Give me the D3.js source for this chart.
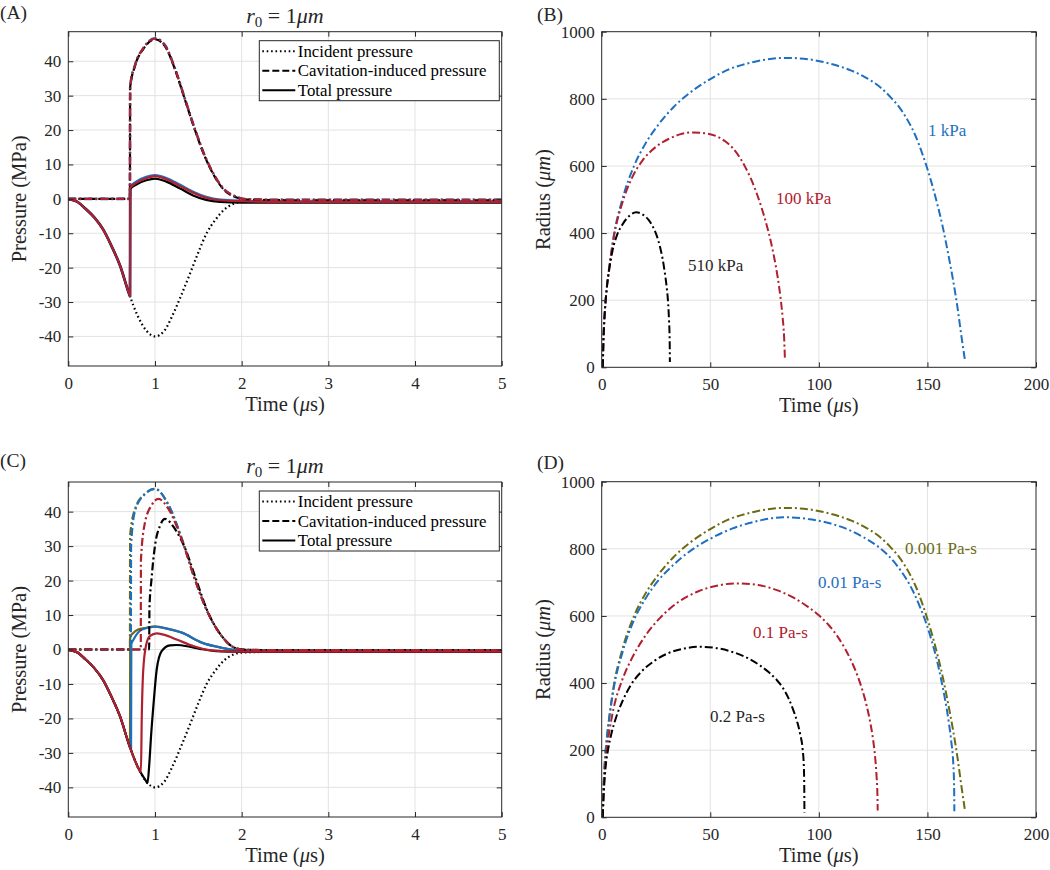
<!DOCTYPE html>
<html><head><meta charset="utf-8">
<script src="https://cdn.jsdelivr.net/npm/d3@7"></script>
<style>
body{margin:0;background:#fff}
svg{display:block}
text{font-family:"Liberation Serif","Times New Roman",serif;fill:#262626}
</style>
</head><body>
<svg id="c" width="1050" height="870"></svg>
<script>
// ---------- tick labels ----------
const pressureTicks = [-40,-30,-20,-10,0,10,20,30,40];
const timeTicksShort = [0,1,2,3,4,5];
const radiusTicks = [0,200,400,600,800,1000];
const timeTicksLong = [0,50,100,150,200];

// ---------- (A)  pressure (MPa) vs time (µs), three far-field pressures ----------
const incidentPressure = [[0,-0.1],[0.1,-0.8],[0.2,-2.9],[0.3,-5.4],[0.4,-8.8],[0.5,-13.8],[0.6,-19.6],[0.7,-27.5],[0.8,-34],[0.9,-38.3],[1.0,-40],[1.1,-38.6],[1.2,-34],[1.3,-28.2],[1.4,-22],[1.5,-15.6],[1.6,-9.8],[1.7,-6],[1.8,-3.1],[1.9,-1.5],[2.0,-0.9],[2.3,-0.7],[3,-0.6],[4,-0.6],[5,-0.6]];

const caviA_1kPa   = [[0,0],[0.711,0],[0.713,32.5],[0.77,38.9],[0.866,43.8],[1.0,46.7],[1.115,44.7],[1.23,37.9],[1.345,29.1],[1.46,20.3],[1.575,12.5],[1.69,6.6],[1.8,2.7],[1.92,0.8],[2.05,-0.1],[2.5,-0.3],[5,-0.3]];
const caviA_100kPa = [[0,0],[0.711,0],[0.713,32.5],[0.77,38.9],[0.866,43.8],[1.0,46.6],[1.115,44.6],[1.23,37.9],[1.345,29.1],[1.46,20.3],[1.575,12.5],[1.69,6.6],[1.8,2.7],[1.92,0.8],[2.05,-0.1],[2.5,-0.3],[5,-0.3]];
const caviA_510kPa = [[0,0],[0.711,0],[0.713,32.3],[0.77,38.7],[0.866,43.6],[1.0,46.4],[1.115,44.4],[1.23,37.7],[1.345,28.9],[1.46,20.1],[1.575,12.3],[1.69,6.4],[1.8,2.5],[1.92,0.6],[2.05,-0.2],[2.5,-0.4],[5,-0.4]];

const totalA_1kPa   = [[0,-0.1],[0.1,-0.8],[0.2,-2.9],[0.3,-5.4],[0.4,-8.8],[0.5,-13.8],[0.6,-19.6],[0.7,-27.5],[0.712,-28.3],[0.714,3.4],[0.79,5.0],[0.9,6.3],[1.0,6.8],[1.13,6.0],[1.29,4.0],[1.44,2.0],[1.59,0.5],[1.75,-0.3],[2.0,-0.6],[2.5,-0.8],[5,-0.8]];
const totalA_100kPa = [[0,-0.1],[0.1,-0.8],[0.2,-2.9],[0.3,-5.4],[0.4,-8.8],[0.5,-13.8],[0.6,-19.6],[0.7,-27.5],[0.712,-28.3],[0.714,3.2],[0.79,4.7],[0.9,6.0],[1.0,6.6],[1.13,5.7],[1.29,3.7],[1.44,1.8],[1.59,0.3],[1.75,-0.4],[2.0,-0.7],[2.5,-0.9],[5,-0.9]];
const totalA_510kPa = [[0,-0.1],[0.1,-0.8],[0.2,-2.9],[0.3,-5.4],[0.4,-8.8],[0.5,-13.8],[0.6,-19.6],[0.7,-27.5],[0.712,-28.3],[0.714,2.8],[0.79,4.2],[0.9,5.4],[1.0,5.9],[1.13,5.0],[1.29,3.0],[1.44,1.0],[1.59,-0.3],[1.75,-0.9],[2.0,-1.1],[2.5,-1.1],[5,-1.1]];

// ---------- (B)  radius (µm) vs time (µs) ----------
const radius1kPa   = [[0.5,0],[0.8,80],[1.2,140],[1.7,190],[2.4,240],[3.5,300],[5.5,390],[9.5,500],[14.9,600],[20,665],[26,722],[33,775],[40,815],[49,855],[58,886],[70,910],[85,922],[95,918],[105,905],[115,884],[122,862],[128,836],[133,805],[137,775],[141,735],[144.5,690],[148,630],[151,570],[154,500],[157,420],[159.5,340],[161.8,260],[163.8,180],[165.5,100],[167.3,20]];
const radius100kPa = [[0.5,0],[0.8,80],[1.2,140],[1.7,190],[2.4,240],[3.5,297],[5.5,385],[9.5,490],[14,565],[19,618],[25,657],[31,681],[36,694],[42,700],[48,697],[53,688],[57,673],[60.5,652],[63.5,626],[66,598],[68.5,565],[71,525],[73.5,478],[75.8,428],[77.8,377],[79.5,325],[81,270],[82.3,210],[83.3,150],[84,90],[84.4,20]];
const radius510kPa = [[0.5,0],[0.8,80],[1.2,140],[1.7,190],[2.4,240],[3.5,293],[5,348],[7,393],[9.5,425],[12.5,450],[15.9,462],[19,455],[21.5,440],[23.5,420],[25.3,393],[26.8,360],[28,325],[29,285],[29.9,240],[30.6,190],[31,140],[31.3,80],[31.4,16]];
const labelsB = ["1 kPa","100 kPa","510 kPa"];

// ---------- (C)  pressure vs time, four viscosities ----------
const caviC_0001 = [[0,0],[0.711,0],[0.713,33],[0.77,40.8],[0.885,45.2],[1.0,46.6],[1.155,42],[1.31,32.1],[1.46,20.4],[1.61,10.7],[1.77,3.9],[1.92,0.5],[2.05,-0.1],[2.5,-0.2],[5,-0.2]];
const caviC_001  = [[0,0],[0.722,0],[0.724,30],[0.77,40.3],[0.885,45.1],[1.0,46.6],[1.155,42],[1.31,32.1],[1.46,20.4],[1.61,10.7],[1.77,3.9],[1.92,0.5],[2.05,-0.1],[2.5,-0.2],[5,-0.2]];
const caviC_01   = [[0,0],[0.836,0],[0.838,26],[0.885,36.9],[0.96,41.8],[1.04,43.7],[1.155,40.8],[1.31,31.8],[1.46,20.4],[1.61,10.7],[1.77,3.9],[1.92,0.5],[2.05,-0.1],[2.5,-0.2],[5,-0.2]];
const caviC_02   = [[0,0],[0.933,0],[0.936,12],[0.96,20.4],[1.0,30.1],[1.06,36],[1.115,37.9],[1.23,35],[1.35,29.2],[1.46,21.4],[1.61,10.9],[1.77,3.9],[1.92,0.5],[2.05,-0.1],[2.5,-0.2],[5,-0.2]];

const totalC_0001 = [[0,-0.1],[0.1,-0.8],[0.2,-2.9],[0.3,-5.4],[0.4,-8.8],[0.5,-13.8],[0.6,-19.6],[0.7,-27.5],[0.712,-28.3],[0.714,3.6],[0.75,4.8],[0.8,5.7],[0.9,6.3],[1.0,6.7],[1.15,6.0],[1.31,4.9],[1.54,2.0],[1.77,0.5],[2.0,-0.4],[2.5,-0.5],[5,-0.5]];
const totalC_001  = [[0,-0.1],[0.1,-0.8],[0.2,-2.9],[0.3,-5.4],[0.4,-8.8],[0.5,-13.8],[0.6,-19.6],[0.7,-27.5],[0.724,-29.1],[0.727,1.5],[0.753,2.9],[0.85,5.8],[1.0,6.6],[1.15,6.0],[1.31,4.9],[1.54,2.0],[1.77,0.5],[2.0,-0.4],[2.5,-0.5],[5,-0.5]];
const totalC_01   = [[0,-0.1],[0.1,-0.8],[0.2,-2.9],[0.3,-5.4],[0.4,-8.8],[0.5,-13.8],[0.6,-19.6],[0.7,-27.5],[0.8,-34],[0.838,-35.5],[0.847,-20.5],[0.865,-5.8],[0.9,1.5],[0.94,3.9],[1.02,4.7],[1.1,4.3],[1.25,2.9],[1.44,1.0],[1.63,-0.2],[1.9,-0.6],[2.5,-0.6],[5,-0.6]];
const totalC_02   = [[0,-0.1],[0.1,-0.8],[0.2,-2.9],[0.3,-5.4],[0.4,-8.8],[0.5,-13.8],[0.6,-19.6],[0.7,-27.5],[0.8,-34],[0.9,-38.3],[0.913,-38.8],[0.935,-33],[0.955,-25],[0.984,-15.6],[1.02,-5.8],[1.077,-0.5],[1.173,1.2],[1.25,1.3],[1.4,0.8],[1.52,0.2],[1.71,-0.5],[2.0,-0.7],[2.5,-0.7],[5,-0.7]];

// ---------- (D)  radius vs time, four viscosities ----------
const radius0001 = [[0.5,0],[0.8,80],[1.2,140],[1.7,190],[2.4,240],[3.5,300],[5.5,390],[9.5,500],[14.9,600],[20,665],[26,722],[33,775],[40,815],[49,855],[58,886],[70,910],[85,922],[95,918],[105,905],[115,884],[122,862],[128,836],[133,805],[137,775],[141,735],[144.5,690],[148,630],[151,570],[154,500],[157,420],[159.5,340],[161.8,260],[163.8,180],[165.5,100],[167.3,20]];
const radius001  = [[0.5,0],[0.8,78],[1.2,137],[1.7,187],[2.4,236],[3.5,295],[5.5,383],[9.5,490],[14.9,588],[20,650],[26,705],[33,752],[40,790],[50,830],[60,860],[70,880],[83.7,894],[95,889],[105,876],[114,856],[121,833],[127,808],[132,780],[136,750],[140,713],[143.5,672],[146.5,628],[149.5,577],[152,525],[154.5,465],[156.5,405],[158.3,345],[159.8,285],[161,225],[161.9,160],[162.3,90],[162.4,18]];
const radius01   = [[0.5,0],[0.8,65],[1.2,115],[1.7,160],[2.4,205],[3.5,255],[5.5,325],[9.5,410],[14,475],[20,540],[27,595],[35,640],[44,672],[53,690],[62,697],[72,692],[81,676],[89,652],[95,627],[100,602],[104.5,573],[108.5,540],[112,503],[115,465],[117.8,422],[120,380],[122,333],[123.6,285],[124.9,235],[125.9,180],[126.6,120],[127,60],[127.1,20]];
const radius02   = [[0.5,0],[0.8,55],[1.2,100],[1.8,150],[2.9,200],[4.5,250],[6.5,295],[9.5,345],[13.5,395],[18,432],[24,465],[31,490],[38,503],[45,508],[53,504],[61,491],[68,472],[73,452],[77,432],[80.5,410],[83.5,385],[86,355],[88.2,320],[90,285],[91.5,245],[92.5,205],[93.1,150],[93.3,80],[93.35,14]];
const labelsD = ["0.001 Pa-s","0.01 Pa-s","0.1 Pa-s","0.2 Pa-s"];

const legendLabels = ["Incident pressure","Cavitation-induced pressure","Total pressure"];

// ---------- styling ----------
const FONT = "'Liberation Serif','Times New Roman',serif";
const BLUE = "#1f6fbf", RED = "#b0202e", OLIVE = "#6b6b14", BLACK = "#000000";
const DOT = "1.6,2.8", DASHDOT = "8,3,2,3", DASH = "7,3";
const AX = "#262626", GRID = "#e2e2e2";

const svg = d3.select("#c");

const panels = [
  {label:"(A)", lx:0, ly:19, l:68.3, r:501.7, t:31.7, b:366, xd:[0,5], yd:[-48.6,48.6], xt:timeTicksShort, yt:pressureTicks,
   ylab:"Pressure (MPa)", ylx:26, title:true, legend:true,
   series:[
     {d:incidentPressure, c:BLACK, dash:DOT, w:2.2},
     {d:caviA_1kPa, c:BLUE, dash:DASHDOT, w:2.6},
     {d:totalA_1kPa, c:BLUE, dash:null, w:2.8},
     {d:caviA_510kPa, c:BLACK, dash:DASH, w:2.2},
     {d:totalA_510kPa, c:BLACK, dash:null, w:2.2},
     {d:caviA_100kPa, c:RED, dash:DASHDOT, w:2.2},
     {d:totalA_100kPa, c:RED, dash:null, w:2.2}
   ]},
  {label:"(B)", lx:537, ly:21, l:601.7, r:1036, t:31.7, b:367.3, xd:[0,200], yd:[0,1000], xt:timeTicksLong, yt:radiusTicks,
   ylab:"radius", ylx:550,
   series:[
     {d:radius1kPa, c:BLUE, dash:DASHDOT, w:2},
     {d:radius100kPa, c:RED, dash:DASHDOT, w:2},
     {d:radius510kPa, c:BLACK, dash:DASHDOT, w:2}
   ],
   notes:[{t:labelsB[0], c:BLUE, x:928, y:136},{t:labelsB[1], c:RED, x:776, y:204},{t:labelsB[2], c:"#262626", x:688, y:271}]},
  {label:"(C)", lx:0, ly:467, l:68.3, r:501.7, t:482, b:817, xd:[0,5], yd:[-48.6,48.6], xt:timeTicksShort, yt:pressureTicks,
   ylab:"Pressure (MPa)", ylx:26, title:true, legend:true,
   series:[
     {d:incidentPressure, c:BLACK, dash:DOT, w:2.2},
     {d:caviC_0001, c:OLIVE, dash:DASHDOT, w:2.2},
     {d:totalC_0001, c:OLIVE, dash:null, w:2.2},
     {d:caviC_001, c:BLUE, dash:DASHDOT, w:2.2},
     {d:totalC_001, c:BLUE, dash:null, w:2.2},
     {d:caviC_02, c:BLACK, dash:DASHDOT, w:2.2},
     {d:totalC_02, c:BLACK, dash:null, w:2.2},
     {d:caviC_01, c:RED, dash:DASHDOT, w:2.2},
     {d:totalC_01, c:RED, dash:null, w:2.2}
   ]},
  {label:"(D)", lx:537, ly:469, l:601.7, r:1036, t:481.7, b:817.3, xd:[0,200], yd:[0,1000], xt:timeTicksLong, yt:radiusTicks,
   ylab:"radius", ylx:550,
   series:[
     {d:radius0001, c:OLIVE, dash:DASHDOT, w:2},
     {d:radius001, c:BLUE, dash:DASHDOT, w:2},
     {d:radius01, c:RED, dash:DASHDOT, w:2},
     {d:radius02, c:BLACK, dash:DASHDOT, w:2}
   ],
   notes:[{t:labelsD[0], c:OLIVE, x:905, y:554},{t:labelsD[1], c:BLUE, x:818, y:588},{t:labelsD[2], c:RED, x:753, y:638},{t:labelsD[3], c:"#262626", x:710, y:722}]}
];

panels.forEach((P, i) => {
  const g = svg.append("g").attr("font-family", FONT);
  const x = d3.scaleLinear().domain(P.xd).range([P.l, P.r]);
  const y = d3.scaleLinear().domain(P.yd).range([P.b, P.t]);

  // background + grid
  g.append("rect").attr("x",P.l).attr("y",P.t).attr("width",P.r-P.l).attr("height",P.b-P.t).attr("fill","#fff");
  g.append("g").selectAll("line").data(P.xt.filter(v=>v>P.xd[0]&&v<P.xd[1])).join("line")
    .attr("x1",d=>x(d)).attr("x2",d=>x(d)).attr("y1",P.t).attr("y2",P.b).attr("stroke",GRID).attr("stroke-width",1);
  g.append("g").selectAll("line").data(P.yt.filter(v=>v>P.yd[0]&&v<P.yd[1])).join("line")
    .attr("y1",d=>y(d)).attr("y2",d=>y(d)).attr("x1",P.l).attr("x2",P.r).attr("stroke",GRID).attr("stroke-width",1);

  // curves
  const clipId = "clip"+i;
  g.append("clipPath").attr("id",clipId).append("rect").attr("x",P.l).attr("y",P.t).attr("width",P.r-P.l).attr("height",P.b-P.t);
  const line = d3.line().x(d=>x(d[0])).y(d=>y(d[1])).curve(d3.curveMonotoneX);
  const cg = g.append("g").attr("clip-path",`url(#${clipId})`);
  P.series.forEach(s => {
    cg.append("path").attr("d", line(s.d)).attr("fill","none").attr("stroke",s.c)
      .attr("stroke-width",s.w).attr("stroke-dasharray",s.dash).attr("stroke-linejoin","round");
  });

  // axes (ticks inside, box on)
  const fmt = d => String(d);
  const style = a => {
    a.select(".domain").remove();
    a.attr("font-family",FONT).attr("font-size",null);
    a.selectAll("line").attr("stroke",AX);
    a.selectAll("text").attr("font-size",17).attr("font-family",FONT).attr("fill",AX);
  };
  g.append("g").attr("transform",`translate(0,${P.b})`)
    .call(d3.axisBottom(x).tickValues(P.xt).tickSize(-5).tickPadding(11).tickFormat(fmt)).call(style);
  g.append("g").attr("transform",`translate(${P.l},0)`)
    .call(d3.axisLeft(y).tickValues(P.yt).tickSize(-5).tickPadding(7).tickFormat(fmt)).call(style);
  g.append("g").attr("transform",`translate(0,${P.t})`)
    .call(d3.axisTop(x).tickValues(P.xt).tickSize(-5).tickFormat("")).call(style);
  g.append("g").attr("transform",`translate(${P.r},0)`)
    .call(d3.axisRight(y).tickValues(P.yt).tickSize(-5).tickFormat("")).call(style);
  g.append("rect").attr("x",P.l).attr("y",P.t).attr("width",P.r-P.l).attr("height",P.b-P.t)
    .attr("fill","none").attr("stroke",AX).attr("stroke-width",1);

  // x label
  const xl = g.append("text").attr("x",(P.l+P.r)/2).attr("y",P.b+45).attr("text-anchor","middle").attr("font-size",20.5);
  xl.append("tspan").text("Time (");
  xl.append("tspan").attr("font-style","italic").text("μ");
  xl.append("tspan").text("s)");

  // y label
  const cy = (P.t+P.b)/2;
  const yl = g.append("text").attr("transform",`translate(${P.ylx},${cy}) rotate(-90)`).attr("text-anchor","middle").attr("font-size",20.5);
  if (P.ylab === "radius") {
    yl.append("tspan").text("Radius (");
    yl.append("tspan").attr("font-style","italic").text("μm");
    yl.append("tspan").text(")");
  } else {
    yl.text(P.ylab);
  }

  // panel label
  g.append("text").attr("x",P.lx).attr("y",P.ly).attr("font-size",19.5).text(P.label);

  // title r0 = 1 µm
  if (P.title) {
    const tt = g.append("text").attr("x",(P.l+P.r)/2).attr("y",P.t-9).attr("text-anchor","middle").attr("font-size",22);
    tt.append("tspan").attr("font-style","italic").text("r");
    tt.append("tspan").attr("font-size",15).attr("dy",4).text("0");
    tt.append("tspan").attr("dy",-4).text(" = 1");
    tt.append("tspan").attr("font-style","italic").text("μm");
  }

  // legend
  if (P.legend) {
    const lg = g.append("g").attr("transform",`translate(259.3,${P.t+9})`);
    lg.append("rect").attr("width",240).attr("height",60).attr("fill","#fff").attr("stroke",AX).attr("stroke-width",1);
    const styles = [DOT, DASH, null];
    legendLabels.forEach((lab,k) => {
      const yy = 10.5 + k*19.5;
      lg.append("line").attr("x1",3).attr("x2",36).attr("y1",yy).attr("y2",yy)
        .attr("stroke","#000").attr("stroke-width",2).attr("stroke-dasharray",styles[k]);
      lg.append("text").attr("x",38.5).attr("y",yy+5.5).attr("font-size",16.8).style("fill","#000").text(lab);
    });
  }

  // annotations
  if (P.notes) {
    P.notes.forEach(n => {
      g.append("text").attr("x",n.x).attr("y",n.y).attr("font-size",17).style("fill",n.c).text(n.t);
    });
  }
});
</script>
</body></html>
